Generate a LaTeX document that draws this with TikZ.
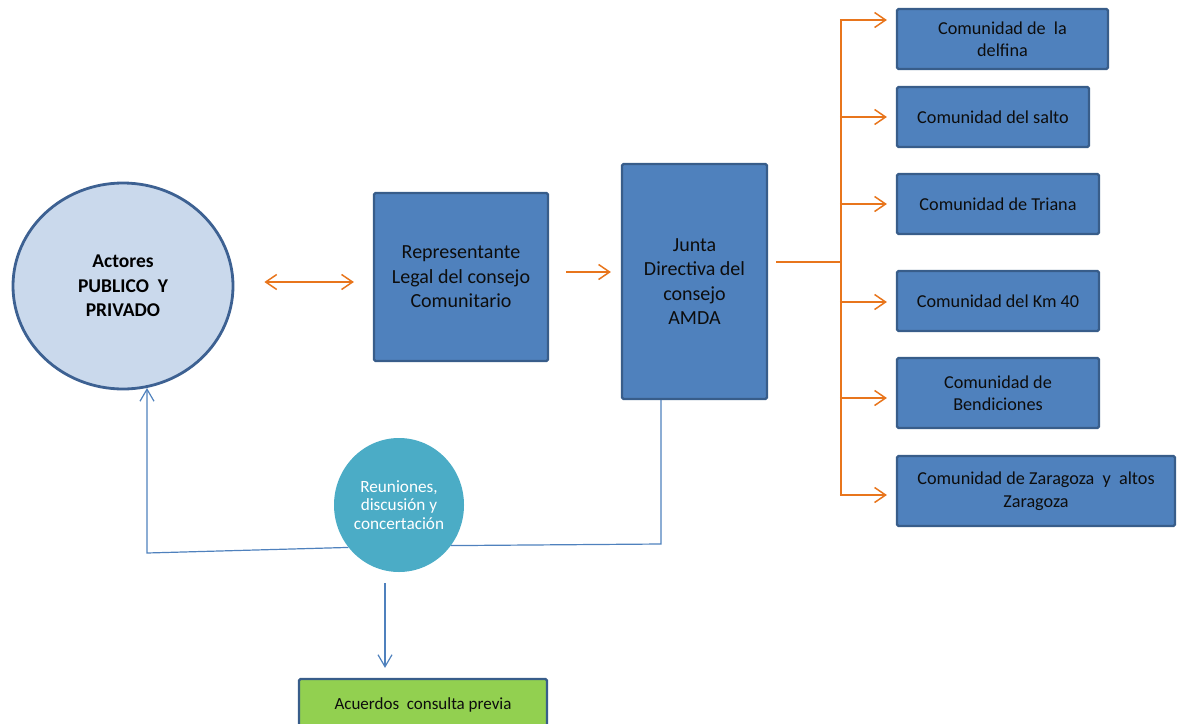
\documentclass[tikz,border=0pt]{standalone}
\usepackage{fontspec}
\setmainfont{Carlito}
\usetikzlibrary{arrows.meta,calc,shapes.geometric}

\definecolor{cajaazul}{HTML}{4F81BD}
\definecolor{bordeazul}{HTML}{385D8A}
\definecolor{actorfondo}{HTML}{CAD9EC}
\definecolor{actorborde}{HTML}{3D6192}
\definecolor{naranjo}{HTML}{E8751C}
\definecolor{turquesa}{HTML}{4BACC6}
\definecolor{verde}{HTML}{92D050}
\definecolor{lineaazul}{HTML}{4F81BD}

\begin{document}
\begin{tikzpicture}[x=1pt,y=-1pt,
  caja/.style={draw=bordeazul, fill=cajaazul, line width=2.2pt, rounded corners=1.5pt,
    align=center, inner sep=0pt, text=black!95, font=\fontsize{18.2}{22.5}\selectfont},
  cajagrande/.style={caja, font=\fontsize{20}{24.5}\selectfont},
  actor/.style={ellipse, draw=actorborde, fill=actorfondo, line width=2.8pt,
    align=center, inner sep=0pt, font=\fontsize{19.5}{24.5}\selectfont\bfseries},
  reunion/.style={ellipse, fill=turquesa, align=center, inner sep=0pt, text=white,
    font=\fontsize{17.2}{18.8}\selectfont},
  acuerdo/.style={caja, fill=verde, font=\fontsize{17}{20}\selectfont},
  naranja/.style={draw=naranjo, line width=1.5pt, arrows={-Straight Barb[length=11pt,width=15pt]}},
  azul/.style={draw=lineaazul, line width=1.2pt, arrows={-Straight Barb[length=12pt,width=14pt]}}]
\useasboundingbox (0,0) rectangle (1177,723);
\clip (0,0) rectangle (1177,723);

\node[actor, minimum width=220, minimum height=206] (actores) at (123,286) {Actores\\PUBLICO\ \ Y\\PRIVADO};
\node[cajagrande, minimum width=174, minimum height=168] (rep) at (461,277) {Representante\\Legal del consejo\\Comunitario};
\node[cajagrande, minimum width=145, minimum height=235] (junta) at (694.5,281.5) {Junta\\Directiva del\\consejo\\AMDA};

\node[caja, minimum width=211, minimum height=60] (c1) at (1002.5,39) {Comunidad de\ \ la\\delfina};
\node[caja, minimum width=192, minimum height=60] (c2) at (993,117) {Comunidad del salto};
\node[caja, minimum width=202, minimum height=60] (c3) at (998,204) {Comunidad de Triana};
\node[caja, minimum width=202, minimum height=60] (c4) at (998,301) {Comunidad del Km 40};
\node[caja, minimum width=202, minimum height=70] (c5) at (998,393) {Comunidad de\\Bendiciones};
\node[caja, minimum width=278, minimum height=70] (c6) at (1036,491) {Comunidad de Zaragoza\ \ y\ \ altos\\Zaragoza};

\node[reunion, minimum width=130, minimum height=134] (reun) at (399,505) {Reuniones,\\discusión y\\concertación};
\node[acuerdo, minimum width=248, minimum height=52] (acuerdos) at (423,705) {Acuerdos\ \ consulta previa};

% conectores naranjas
\draw[naranja, {Straight Barb[length=11pt,width=15pt]}-{Straight Barb[length=11pt,width=15pt]}] ($(actores.east)+(30,-4)$) -- ($(rep.west)+(-19,5)$);
\draw[naranja] ($(rep.east)+(17,-5)$) -- ($(junta.west)+(-10,-9.5)$);

\coordinate (nudo) at (841,262);
\coordinate (troncoarriba) at (841,20);
\coordinate (troncoabajo) at (841,495);
\draw[naranja, -] ($(junta.east)+(8,-19.5)$) -- (nudo);
\draw[naranja, -, line width=2.2pt] (troncoarriba) -- (troncoabajo);
\foreach \c/\dy in {c1/-19, c2/0, c3/0, c4/1, c5/5, c6/4}
  \draw[naranja] ($(\c.west)+(-56,\dy)$) -- ($(\c.west)+(-9,\dy)$);

% conectores azules
\coordinate (esqizq) at (147,553);
\coordinate (esqder) at (661,544);
\draw[azul] (reun.220) -- (esqizq) -- (esqizq |- actores.-77);
\draw[azul, -] (reun.-38) -- (esqder) -- (esqder |- junta.south);
\draw[azul] ($(reun.south)+(-14,11)$) -- ($(acuerdos.north)+(-38,-10)$);
\end{tikzpicture}
\end{document}
